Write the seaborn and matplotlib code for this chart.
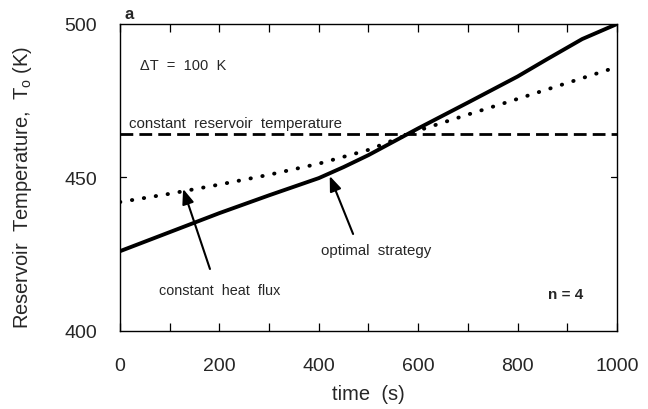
import numpy as np
import pandas as pd
import matplotlib
matplotlib.use("Agg")
import matplotlib.pyplot as plt
import seaborn as sns
from matplotlib.ticker import MultipleLocator

# data
time_opt = [0, 100, 200, 300, 400, 450, 500, 600, 700, 800, 860, 930, 1000]
temp_opt = [426.0, 432.2, 438.4, 444.2, 449.8, 453.4, 457.3, 466.0, 474.4, 482.9, 488.6, 495.1, 500.0]

time_flux = [0, 100, 200, 300, 400, 500, 600, 700, 800, 900, 1000]
temp_flux = [442.0, 444.7, 447.7, 450.9, 454.5, 459.0, 465.3, 470.5, 475.6, 480.8, 486.0]

time_const = [0, 1000]
temp_const = [464.2, 464.2]

x_ticks = [0, 200, 400, 600, 800, 1000]
y_ticks = [400, 450, 500]

sns.set_style("ticks")
plt.rcParams['font.family'] = ['Liberation Sans', 'DejaVu Sans']

fig = plt.figure(figsize=(6.48, 4.10), dpi=100)
ax = fig.add_axes([120/648, 1 - 332/410, (617-120)/648, (332-25)/410])

df_opt = pd.DataFrame({"time": time_opt, "T": temp_opt})
df_flux = pd.DataFrame({"time": time_flux, "T": temp_flux})
df_const = pd.DataFrame({"time": time_const, "T": temp_const})

sns.lineplot(data=df_opt, x="time", y="T", ax=ax, color="black", lw=2.8, sort=False)
sns.lineplot(data=df_flux, x="time", y="T", ax=ax, color="black", lw=2.8,
             linestyle=(0, (0.1, 3.0)), sort=False)
ax.lines[-1].set_dash_capstyle("round")
sns.lineplot(data=df_const, x="time", y="T", ax=ax, color="black", lw=2.0,
             linestyle=(0, (4.6, 2.2)), sort=False)

ax.set_xlim(0, 1000)
ax.set_ylim(400, 500)
ax.set_xticks(x_ticks)
ax.set_yticks(y_ticks)
ax.xaxis.set_minor_locator(MultipleLocator(100))
ax.tick_params(axis="both", which="both", direction="in", top=True, right=True,
               length=6, width=0.9, color="black")
ax.tick_params(axis="y", which="major", length=0)
ax.tick_params(axis="x", which="major", labelsize=14, pad=19)
ax.tick_params(axis="y", which="major", labelsize=14, pad=16.5)
# inner ticks on y only at 450
for yy in [450]:
    ax.plot([0, 12], [yy, yy], color="black", lw=0.9)
    ax.plot([988, 1000], [yy, yy], color="black", lw=0.9)

for s in ax.spines.values():
    s.set_linewidth(1.0)
    s.set_color("black")

ax.set_xlabel("time  (s)", fontsize=14.5, labelpad=7)
ax.set_ylabel("Reservoir  Temperature,  T$_{\\mathregular{o}}$ (K)", fontsize=14.5)
ax.yaxis.set_label_coords(-0.173, 0.472)

ax.text(10, 503.4, "a", fontsize=12, fontweight="bold", ha="left", va="center")
ax.text(40, 486.5, "ΔT  =  100  K", fontsize=10.5, ha="left", va="center")
ax.text(18, 467.6, "constant  reservoir  temperature", fontsize=10.8, ha="left", va="center")
ax.text(78, 413.2, "constant  heat  flux", fontsize=10.4, ha="left", va="center")
ax.text(404, 426.3, "optimal  strategy", fontsize=10.8, ha="left", va="center")
ax.text(862, 412.2, "n = 4", fontsize=11, fontweight="bold", ha="left", va="center")

arrowprops = dict(arrowstyle="-|>,head_length=0.9,head_width=0.35", color="black", lw=1.5,
                  shrinkA=0, shrinkB=0)
ax.annotate("", xy=(127, 446.3), xytext=(181, 420.2), arrowprops=arrowprops)
ax.annotate("", xy=(422, 450.5), xytext=(469, 431.6), arrowprops=arrowprops)

fig.savefig("out.png", dpi=100)
